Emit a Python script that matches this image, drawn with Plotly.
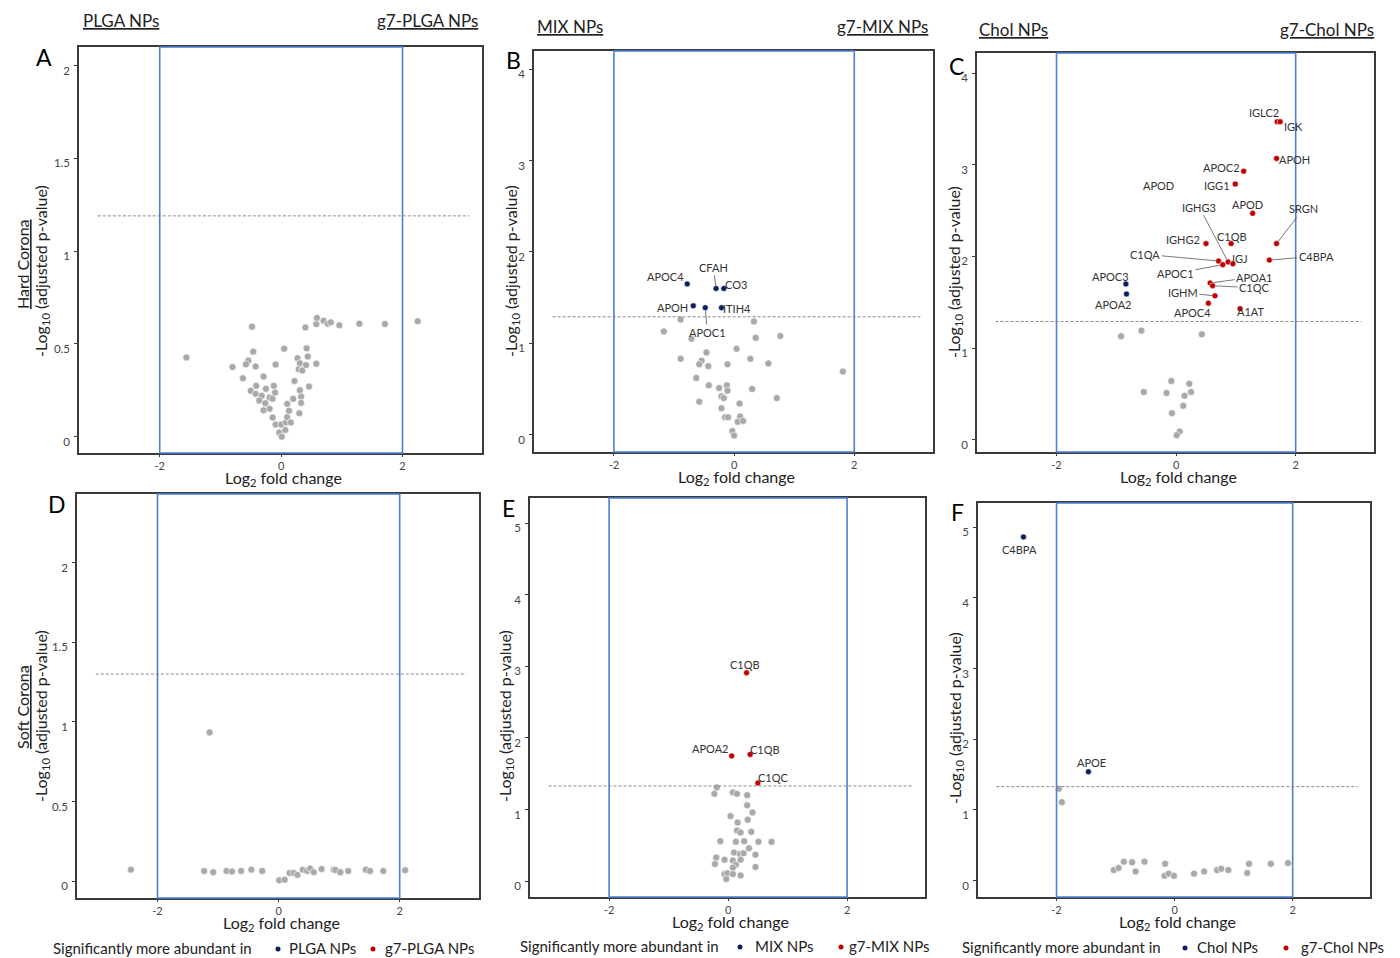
import plotly.graph_objects as go

W, H = 1400, 958
FONT = "Lato"

# ---------------- DATA ----------------
A_gray_x = [-1.56,-0.48,-0.80,-0.54,-0.58,-0.46,-0.42,-0.63,-0.41,-0.50,-0.42,-0.29,-0.25,-0.32,-0.36,-0.26,-0.19,-0.14,-0.19,-0.29,
            -0.09,-0.12,-0.10,-0.14,-0.09,0.00,-0.03,0.01,0.07,0.08,0.10,0.13,0.10,0.16,0.05,0.20,0.22,0.30,0.31,0.33,
            0.33,0.29,0.35,0.27,0.31,0.41,0.42,0.44,0.46,0.58,0.40,0.58,0.59,0.70,0.77,0.82,0.96,1.29,1.71,2.25]
A_gray_y = [0.427,0.593,0.375,0.41,0.39,0.458,0.378,0.315,0.274,0.247,0.231,0.324,0.258,0.22,0.195,0.18,0.211,0.205,0.15,0.142,
            0.389,0.274,0.238,0.103,0.065,0.065,0.023,0.0,0.036,0.077,0.105,0.14,0.177,0.077,0.474,0.204,0.30,0.126,0.25,0.216,
            0.182,0.364,0.357,0.423,0.396,0.386,0.476,0.432,0.27,0.393,0.589,0.607,0.64,0.625,0.609,0.616,0.60,0.609,0.607,0.622]

B_sig_names = ["APOC4", "CFAH", "CO3", "APOH", "APOC1", "ITIH4"]
B_sig_x = [-0.78, -0.30, -0.17, -0.68, -0.48, -0.21]
B_sig_y = [1.65, 1.60, 1.60, 1.41, 1.39, 1.39]
B_gray_x = [-0.89,-1.17,-0.71,0.33,0.36,0.77,0.04,-0.46,-0.89,-0.54,-0.58,-0.43,-0.11,0.27,0.57,1.81,-0.63,-0.42,
            -0.25,-0.12,-0.11,0.30,-0.21,-0.17,-0.58,0.09,0.71,-0.21,-0.15,-0.10,0.10,0.06,0.15,-0.03,0.00]
B_gray_y = [1.26,1.13,1.05,1.24,1.06,1.08,0.94,0.90,0.83,0.81,0.77,0.75,0.77,0.83,0.78,0.69,0.62,0.54,
            0.51,0.54,0.48,0.50,0.42,0.40,0.36,0.34,0.40,0.29,0.19,0.19,0.20,0.14,0.15,0.04,-0.01]

C_red_names = ["IGLC2","IGK","APOH","APOC2","IGG1","APOD","SRGN","IGHG2","C1QB","C4BPA","C1QA","IGHG3","IGJ",
               "APOC1","APOA1","C1QC","IGHM","APOC4","A1AT"]
C_red_x = [1.69,1.74,1.68,1.13,0.99,1.28,1.68,0.50,0.92,1.56,0.71,0.87,0.95,0.78,0.57,0.61,0.65,0.54,1.07]
C_red_y = [3.47,3.47,3.07,2.93,2.79,2.47,2.14,2.14,2.14,1.96,1.95,1.94,1.92,1.91,1.71,1.68,1.57,1.49,1.43]
C_blue_names = ["APOC3", "APOA2"]
C_blue_x = [-0.84, -0.83]
C_blue_y = [1.70, 1.59]
C_gray_x = [-0.92,-0.58,0.43,-0.08,0.22,-0.54,-0.16,0.25,0.14,0.12,-0.07,0.06,0.01]
C_gray_y = [1.13,1.19,1.15,0.64,0.61,0.52,0.51,0.52,0.48,0.37,0.29,0.09,0.05]
C_extra_label = ("APOD", -0.30, 2.77)   # free-standing label in panel C

D_gray_x = [-2.44,-1.14,-1.23,-1.08,-0.86,-0.77,-0.62,-0.45,-0.27,0.01,0.10,0.18,0.25,0.31,0.40,0.47,0.52,0.58,
            0.71,0.91,0.94,1.02,1.15,1.44,1.51,1.73,2.09]
D_gray_y = [0.073,0.934,0.065,0.057,0.065,0.061,0.065,0.073,0.065,0.006,0.010,0.052,0.052,0.040,0.073,0.065,0.080,0.057,
            0.077,0.073,0.071,0.057,0.065,0.073,0.065,0.065,0.069]

E_red_names = ["C1QB", "APOA2", "C1QB", "C1QC"]
E_red_x = [0.31, 0.06, 0.37, 0.50]
E_red_y = [2.91, 1.75, 1.77, 1.37]
E_gray_x = [-0.19,-0.23,0.08,0.15,0.32,0.32,0.41,0.04,0.33,0.16,0.15,0.21,0.39,-0.13,0.13,0.27,0.51,0.73,
            0.35,0.10,0.20,0.26,0.46,-0.20,-0.06,0.08,0.21,0.13,-0.22,0.08,0.46,-0.06,-0.01,0.08,0.21,-0.03]
E_gray_y = [1.31,1.22,1.24,1.22,1.20,1.06,0.96,0.91,0.86,0.82,0.71,0.68,0.69,0.56,0.55,0.56,0.55,0.55,
            0.46,0.40,0.38,0.39,0.37,0.33,0.30,0.29,0.30,0.23,0.24,0.19,0.20,0.10,0.11,0.10,0.08,0.03]

F_blue_names = ["C4BPA", "APOE"]
F_blue_x = [-2.56, -1.46]
F_blue_y = [4.86, 1.54]
F_gray_x = [-1.96,-1.91,-1.03,-0.95,-0.86,-0.72,-0.66,-0.51,-0.16,-0.17,-0.10,-0.01,0.33,0.50,0.72,0.79,0.91,1.23,1.26,1.63,1.92]
F_gray_y = [1.30,1.11,0.15,0.18,0.27,0.26,0.13,0.27,0.24,0.07,0.10,0.07,0.10,0.13,0.15,0.17,0.15,0.11,0.24,0.24,0.25]

thresholds = [1.19, 1.29, 1.29, 1.30, 1.33, 1.33]
fc_cutoff = [-2, 2]
y_ticks = [[0, 0.5, 1, 1.5, 2], [0, 1, 2, 3, 4], [0, 1, 2, 3, 4],
           [0, 0.5, 1, 1.5, 2], [0, 1, 2, 3, 4, 5], [0, 1, 2, 3, 4, 5]]
y_ticktext = [["0", "0.5", "1", "1.5", "2"], ["0", "1", "2", "3", "4"], ["0", "1", "2", "3", "4"],
              ["0", "0.5", "1", "1.5", "2"], ["0", "1", "2", "3", "4", "5"], ["0", "1", "2", "3", "4", "5"]]
x_ticks = [-2, 0, 2]
groups = [("PLGA NPs", "g7-PLGA NPs"), ("MIX NPs", "g7-MIX NPs"), ("Chol NPs", "g7-Chol NPs")]
panel_letters = ["A", "B", "C", "D", "E", "F"]

# ---------------- LAYOUT / STYLE ----------------
GRAY = "#a9a9a9"
NAVY = "#0b1f5e"
RED = "#c00000"
BLUE = "#4a80d6"
FRAME = "#3a3a3a"

# plot boxes in pixels: (left, right, top, bottom)
boxes = [(79, 482, 47, 453), (534, 933, 51, 452), (977, 1374, 53, 452),
         (77, 479, 494, 898), (530, 925, 498, 897), (978, 1370, 503, 897)]
letter_pos = [(44, 57), (513, 60), (956, 66), (57, 504), (509, 508), (957, 512)]
y_ranges = [[-0.088, 2.10], [-0.19, 4.2], [-0.134, 4.22], [-0.105, 2.43], [-0.22, 5.35], [-0.23, 5.34]]
x_range = [-3.33, 3.31]

# label offsets (pixels, screen: dx right, dy down), line flag
label_style = {
    "B": [(-21.7, -7.7, False), (-2.7, -21.3, True), (11.7, -3.7, False), (-20.3, 1.7, False),
          (2.0, 24.7, True), (15.3, 1.0, False)],
    "C_red": [(-13.3, -9.3, False), (13.3, 4.7, False), (18, 1, False), (-21.7, -3.3, False), (-18.7, 1.7, False),
              (-5, -9.3, False), (26.7, -34.7, True), (-23, -4, False), (0.7, -7.3, False), (46.7, -4, True),
              (-73.3, -6.7, True), (-28.7, -54.7, True), (7.3, -5.3, False), (-47.3, 8.7, True),
              (44, -6, True), (42, 2, True), (-32, -3.3, True), (-16, 9.3, False), (10.7, 2.7, False)],
    "C_blue": [(-15.7, -7.3, False), (-13, 10.7, False)],
    "E": [(-1.7, -8.3, False), (-22, -7.3, False), (15.3, -5.3, False), (15.7, -6, False)],
    "F": [(-4.3, 12.3, False), (3, -9, False)],
}


def px(x):
    return x / W


def py(y):
    return 1 - y / H


fig = go.Figure()
layout = dict(width=W, height=H, autosize=False, margin=dict(l=0, r=0, t=0, b=0),
              paper_bgcolor="white", plot_bgcolor="white", showlegend=False,
              font=dict(family=FONT, color="#222"))
shapes = []
annotations = []

for i in range(6):
    n = "" if i == 0 else str(i + 1)
    l, r, t, b = boxes[i]
    layout["xaxis" + n] = dict(domain=[px(l), px(r)], range=x_range, anchor="y" + n,
                               tickvals=x_ticks, ticktext=[str(v) for v in x_ticks],
                               showgrid=False, zeroline=False, showline=True, mirror=True,
                               linecolor=FRAME, linewidth=1.5, ticks="outside", ticklen=2,
                               tickcolor=FRAME, tickfont=dict(size=11, color="#444", family=FONT))
    layout["yaxis" + n] = dict(domain=[py(b), py(t)], range=y_ranges[i], anchor="x" + n,
                               tickvals=y_ticks[i], ticktext=y_ticktext[i],
                               showgrid=False, zeroline=False, showline=True, mirror=True,
                               linecolor=FRAME, linewidth=1.5, ticks="outside", ticklen=3,
                               ticklabelstandoff=2, ticklabelshift=5,
                               tickcolor=FRAME, tickfont=dict(size=11.5, color="#444", family=FONT))
    xr, yr = "x" + n, "y" + n
    # cutoff rectangle (blue)
    shapes.append(dict(type="rect", xref=xr, yref=yr + " domain", x0=fc_cutoff[0], x1=fc_cutoff[1],
                       y0=0, y1=1, line=dict(color=BLUE, width=1.6), layer="above"))
    # significance threshold
    shapes.append(dict(type="line", xref=xr, yref=yr, x0=-3.02, x1=3.1, y0=thresholds[i], y1=thresholds[i],
                       line=dict(color="#8a8a8a", width=1, dash="3px,2px")))
    # panel letter
    lx, ly = letter_pos[i]
    annotations.append(dict(text=panel_letters[i], xref="paper", yref="paper",
                            x=px(lx), y=py(ly), xanchor="center", yanchor="middle",
                            showarrow=False, font=dict(size=23, color="black", family=FONT)))
    # x title
    annotations.append(dict(text="Log<sub>2</sub> fold change", xref="paper", yref="paper",
                            x=px((l + r) / 2 + 3), y=py(b + 25), xanchor="center", yanchor="middle",
                            showarrow=False, font=dict(size=16, color="#222", family=FONT)))


def add_points(idx, xs, ys, color, size):
    n = "" if idx == 0 else str(idx + 1)
    fig.add_trace(go.Scatter(x=xs, y=ys, mode="markers", xaxis="x" + n, yaxis="y" + n,
                             marker=dict(color=color, size=size, line=dict(color="white", width=0.6)),
                             hoverinfo="x+y"))


def add_labels(idx, names, xs, ys, styles):
    n = "" if idx == 0 else str(idx + 1)
    for name, x, y, (dx, dy, line) in zip(names, xs, ys, styles):
        if line:
            annotations.append(dict(text=name, x=x, y=y, xref="x" + n, yref="y" + n, showarrow=True,
                                    ax=dx, ay=dy, arrowhead=0, arrowwidth=0.8, arrowcolor="#555",
                                    standoff=3, font=dict(size=11, color="#333", family=FONT)))
        else:
            annotations.append(dict(text=name, x=x, y=y, xref="x" + n, yref="y" + n, showarrow=False,
                                    xshift=dx, yshift=-dy, font=dict(size=11, color="#333", family=FONT)))


add_points(0, A_gray_x, A_gray_y, GRAY, 7)
add_points(1, B_gray_x, B_gray_y, GRAY, 7)
add_points(1, B_sig_x, B_sig_y, NAVY, 6)
add_labels(1, B_sig_names, B_sig_x, B_sig_y, label_style["B"])
add_points(2, C_gray_x, C_gray_y, GRAY, 7)
add_points(2, C_red_x, C_red_y, RED, 6)
add_points(2, C_blue_x, C_blue_y, NAVY, 6)
add_labels(2, C_red_names, C_red_x, C_red_y, label_style["C_red"])
add_labels(2, C_blue_names, C_blue_x, C_blue_y, label_style["C_blue"])
annotations.append(dict(text=C_extra_label[0], x=C_extra_label[1], y=C_extra_label[2], xref="x3", yref="y3",
                        showarrow=False, font=dict(size=11, color="#333", family=FONT)))
add_points(3, D_gray_x, D_gray_y, GRAY, 7)
add_points(4, E_gray_x, E_gray_y, GRAY, 7)
add_points(4, E_red_x, E_red_y, RED, 6)
add_labels(4, E_red_names, E_red_x, E_red_y, label_style["E"])
add_points(5, F_gray_x, F_gray_y, GRAY, 7)
add_points(5, F_blue_x, F_blue_y, NAVY, 6)
add_labels(5, F_blue_names, F_blue_x, F_blue_y, label_style["F"])

# column headers
header_pos = [(81, 480, 20), (535, 930, 27), (977, 1376, 30)]
for (left_name, right_name), (xl, xr_, yy) in zip(groups, header_pos):
    annotations.append(dict(text="<u>" + left_name + "</u>", xref="paper", yref="paper", x=px(xl), y=py(yy),
                            xanchor="left", yanchor="middle", showarrow=False,
                            font=dict(size=17, color="#222", family=FONT)))
    annotations.append(dict(text="<u>" + right_name + "</u>", xref="paper", yref="paper", x=px(xr_), y=py(yy),
                            xanchor="right", yanchor="middle", showarrow=False,
                            font=dict(size=17, color="#222", family=FONT)))

# y titles
ytitle = "-Log<sub>10</sub> (adjusted p-value)"
ytitle_pos = [(42, 271), (512, 271), (955, 272), (41, 716), (505, 716), (955, 718)]
for (xx, yy) in ytitle_pos:
    annotations.append(dict(text=ytitle, xref="paper", yref="paper", x=px(xx), y=py(yy),
                            xanchor="center", yanchor="middle", textangle=-90, showarrow=False,
                            font=dict(size=16, color="#222", family=FONT)))
for text, (xx, yy) in [("Hard Corona", (22, 264)), ("Soft Corona", (22, 707))]:
    annotations.append(dict(text="<u>" + text + "</u>", xref="paper", yref="paper", x=px(xx), y=py(yy),
                            xanchor="center", yanchor="middle", textangle=-90, showarrow=False,
                            font=dict(size=16, color="#222", family=FONT)))

# bottom legends
legend_pos = [(51, 278, 287, 373, 383, 948), (518, 740, 753, 841, 847, 946), (960, 1185, 1195, 1286, 1299, 947)]
for (left_name, right_name), (tx, d1, t1, d2, t2, yy) in zip(groups, legend_pos):
    annotations.append(dict(text="Significantly more abundant in", xref="paper", yref="paper", x=px(tx),
                            y=py(yy), xanchor="left", yanchor="middle", showarrow=False,
                            font=dict(size=15, color="#222", family=FONT)))
    annotations.append(dict(text=left_name, xref="paper", yref="paper", x=px(t1), y=py(yy),
                            xanchor="left", yanchor="middle", showarrow=False,
                            font=dict(size=15, color="#222", family=FONT)))
    annotations.append(dict(text=right_name, xref="paper", yref="paper", x=px(t2), y=py(yy),
                            xanchor="left", yanchor="middle", showarrow=False,
                            font=dict(size=15, color="#222", family=FONT)))
    for dxp, col in [(d1, NAVY), (d2, RED)]:
        shapes.append(dict(type="circle", xref="paper", yref="paper", x0=px(dxp - 2.5), x1=px(dxp + 2.5),
                           y0=py(yy + 3.5), y1=py(yy - 1.5), fillcolor=col, line=dict(width=0)))

layout["shapes"] = shapes
layout["annotations"] = annotations
fig.update_layout(**layout)
fig.write_html("out.html", config={"displayModeBar": False},
               post_script="document.body.style.margin='0';document.body.style.overflow='hidden';")
